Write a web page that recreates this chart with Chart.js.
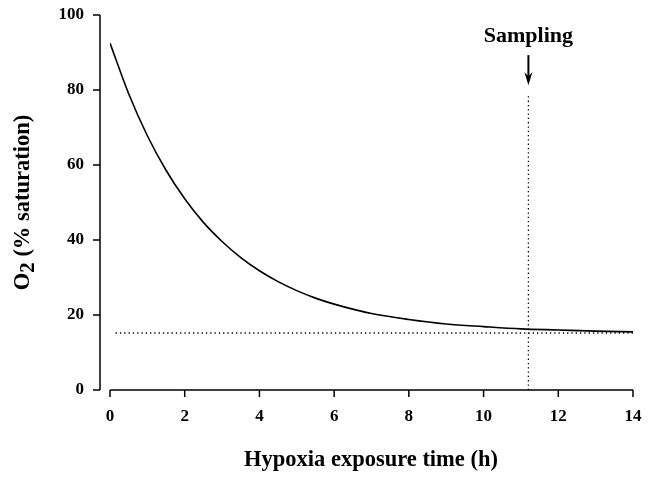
<!DOCTYPE html>
<html>
<head>
<meta charset="utf-8">
<script src="https://cdn.jsdelivr.net/npm/chart.js@4"></script>
<style>
  html, body { margin: 0; padding: 0; background: #fff; }
  #wrap { width: 648px; height: 478px; }
</style>
</head>
<body>
<div id="wrap"><canvas id="chart" width="648" height="478"></canvas></div>
<script>
// hours of hypoxia exposure and O2 saturation
const hours = [0, 0.5, 1, 1.5, 2, 2.5, 3, 3.5, 4, 4.5, 5, 5.5, 6, 7, 8, 9, 10, 11, 12, 13, 14];
const o2 = [92.5, 79.0, 67.8, 58.6, 51.0, 44.7, 39.6, 35.3, 31.8, 28.9, 26.5, 24.5, 22.9, 20.4, 18.8, 17.6, 16.9, 16.3, 16.0, 15.7, 15.5];

const floorLevel = 15.2;
const floorRange = [0.15, 14];
const samplingTime = 11.2;
const samplingTop = 79;

const xTicks = [0, 2, 4, 6, 8, 10, 12, 14];
const yTicks = [0, 20, 40, 60, 80, 100];

const FONT = "'Liberation Serif', 'Times New Roman', serif";

const axesPlugin = {
  id: "axes",
  afterDraw(chart) {
    const ctx = chart.ctx;
    const x = chart.scales.x;
    const y = chart.scales.y;
    const yAxisX = chart.chartArea.left - 10;
    const baseY = y.getPixelForValue(0);

    ctx.save();
    ctx.strokeStyle = "#000";
    ctx.lineWidth = 1.5;

    // y axis + ticks
    ctx.beginPath();
    ctx.moveTo(yAxisX, y.getPixelForValue(100));
    ctx.lineTo(yAxisX, baseY);
    yTicks.forEach(v => {
      const py = y.getPixelForValue(v);
      ctx.moveTo(yAxisX - 7, py);
      ctx.lineTo(yAxisX, py);
    });
    ctx.stroke();

    // x axis + ticks
    ctx.beginPath();
    ctx.moveTo(x.getPixelForValue(0), baseY);
    ctx.lineTo(x.getPixelForValue(14), baseY);
    xTicks.forEach(v => {
      const px = x.getPixelForValue(v);
      ctx.moveTo(px, baseY);
      ctx.lineTo(px, baseY + 7);
    });
    ctx.stroke();

    // sampling arrow
    const ax = x.getPixelForValue(samplingTime);
    const aTop = y.getPixelForValue(89.3);
    const aTip = y.getPixelForValue(81.3);
    ctx.beginPath();
    ctx.lineWidth = 2;
    ctx.moveTo(ax, aTop);
    ctx.lineTo(ax, aTip - 6);
    ctx.stroke();
    ctx.beginPath();
    ctx.fillStyle = "#000";
    ctx.moveTo(ax, aTip);
    ctx.lineTo(ax - 4, aTip - 13);
    ctx.lineTo(ax, aTip - 9);
    ctx.lineTo(ax + 4, aTip - 13);
    ctx.closePath();
    ctx.fill();

    ctx.font = "bold 22px " + FONT;
    ctx.textAlign = "center";
    ctx.textBaseline = "alphabetic";
    ctx.fillText("Sampling", ax, y.getPixelForValue(92.8));

    // x title
    ctx.font = "bold 22.5px " + FONT;
    ctx.fillText("Hypoxia exposure time (h)", 371, 466);

    // y title with subscript
    ctx.translate(29, (y.getPixelForValue(100) + baseY) / 2);
    ctx.rotate(-Math.PI / 2);
    const main = "O";
    const sub = "2";
    const rest = " (% saturation)";
    ctx.font = "bold 22.5px " + FONT;
    const wMain = ctx.measureText(main).width;
    const wRest = ctx.measureText(rest).width;
    ctx.font = "bold 21px " + FONT;
    const wSub = ctx.measureText(sub).width;
    let startX = -(wMain + wSub + wRest) / 2;
    ctx.textAlign = "left";
    ctx.font = "bold 22.5px " + FONT;
    ctx.fillText(main, startX, 0);
    ctx.font = "bold 21px " + FONT;
    ctx.fillText(sub, startX + wMain, 5);
    ctx.font = "bold 22.5px " + FONT;
    ctx.fillText(rest, startX + wMain + wSub, 0);
    ctx.restore();
  }
};

new Chart(document.getElementById("chart"), {
  type: "line",
  data: {
    datasets: [
      {
        data: hours.map((h, i) => ({ x: h, y: o2[i] })),
        borderColor: "#000",
        borderWidth: 1.6,
        pointRadius: 0,
        cubicInterpolationMode: "monotone",
        fill: false
      },
      {
        data: floorRange.map(h => ({ x: h, y: floorLevel })),
        borderColor: "#000",
        borderWidth: 1.3,
        borderDash: [1.3, 3],
        pointRadius: 0
      },
      {
        data: [{ x: samplingTime, y: 0 }, { x: samplingTime, y: samplingTop }],
        borderColor: "#000",
        borderWidth: 1.3,
        borderDash: [1.3, 3],
        pointRadius: 0
      }
    ]
  },
  options: {
    responsive: false,
    animation: false,
    layout: { padding: { top: 15, right: 15, left: 0, bottom: 0 } },
    plugins: { legend: { display: false }, tooltip: { enabled: false } },
    scales: {
      x: {
        type: "linear",
        min: 0,
        max: 14,
        afterFit: s => { s.height = 88; s.paddingLeft = 0; s.paddingRight = 0; },
        afterBuildTicks: s => { s.ticks = xTicks.map(v => ({ value: v })); },
        grid: { display: false, drawTicks: false },
        border: { display: false },
        ticks: { color: "#000", padding: 16, font: { family: FONT, size: 17, weight: "bold" } }
      },
      y: {
        min: 0,
        max: 100,
        afterFit: s => { s.width = 110; s.paddingTop = 0; s.paddingBottom = 0; },
        afterBuildTicks: s => { s.ticks = yTicks.map(v => ({ value: v })); },
        grid: { display: false, drawTicks: false },
        border: { display: false },
        ticks: { color: "#000", padding: 26, font: { family: FONT, size: 17, weight: "bold" } }
      }
    }
  },
  plugins: [axesPlugin]
});
</script>
</body>
</html>
